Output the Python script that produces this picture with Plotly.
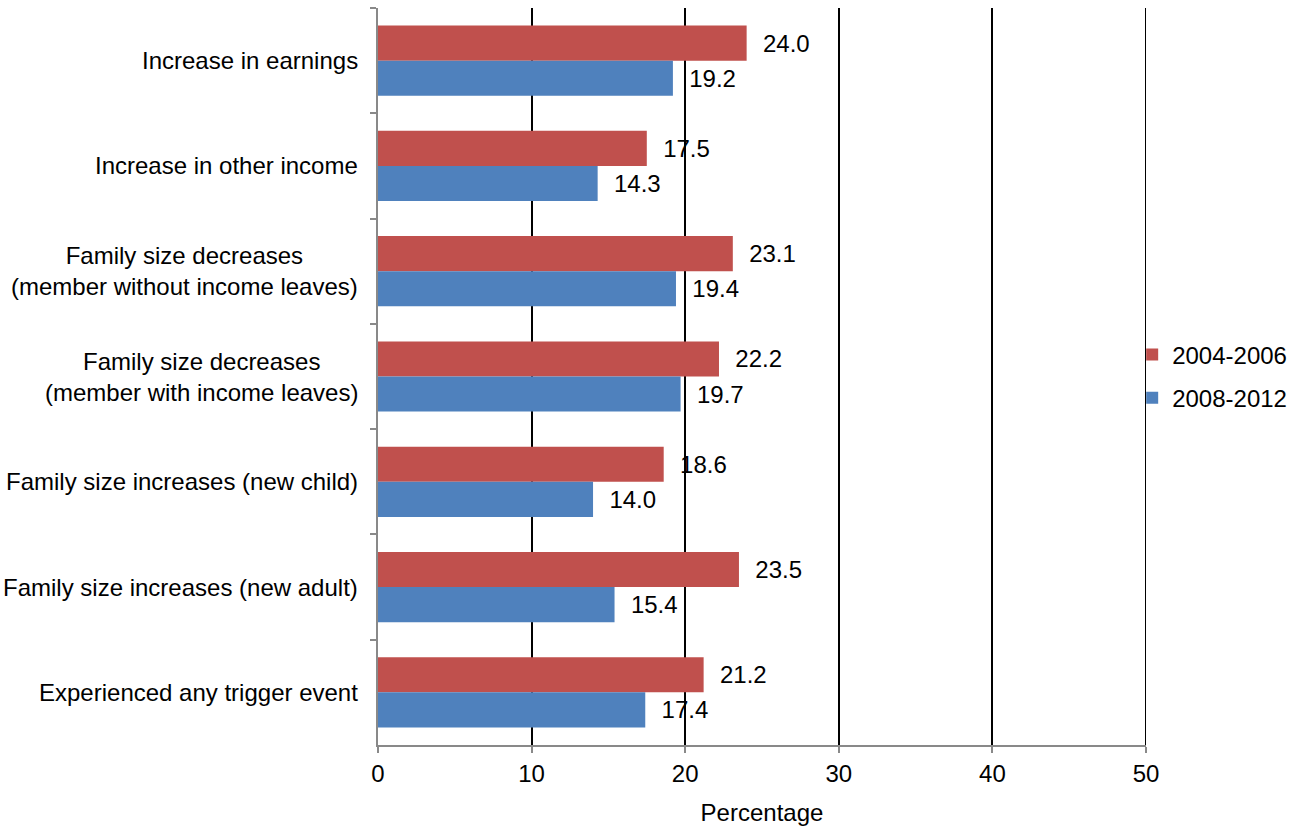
import plotly.graph_objects as go

categories = [
    "Increase in earnings",
    "Increase in other income",
    "Family size decreases<br>(member without income leaves)",
    "Family size decreases<br>(member with income leaves)",
    "Family size increases (new child)",
    "Family size increases (new adult)",
    "Experienced any trigger event",
]
series_names = ["2004-2006", "2008-2012"]
values_2004_2006 = [24.0, 17.5, 23.1, 22.2, 18.6, 23.5, 21.2]
values_2008_2012 = [19.2, 14.3, 19.4, 19.7, 14.0, 15.4, 17.4]
x_ticks = [0, 10, 20, 30, 40, 50]

colors = ["#C0504D", "#4F81BD"]
font_family = "Liberation Sans, Arial, sans-serif"
fs = 24

fig = go.Figure()
for name, vals, col in zip(series_names, [values_2004_2006, values_2008_2012], colors):
    fig.add_trace(go.Bar(
        y=categories, x=vals, name=name, orientation="h",
        legendgroup=name,
        marker=dict(color=col, line=dict(width=0)),
        text=[f"{v:.1f}" for v in vals],
        texttemplate="  %{text}",
        textposition="outside",
        textfont=dict(size=fs, color="#000000", family=font_family),
        cliponaxis=False,
    ))

# Category labels drawn as centered multi-line annotations
annotations = []
for cat in categories:
    annotations.append(dict(
        x=0, xref="paper", y=cat, yref="y",
        text=cat, showarrow=False, xanchor="right", yanchor="middle",
        xshift=-18, align="center",
        font=dict(size=fs, color="#000000", family=font_family),
    ))

# Gridline at the last tick, which sits on the right edge of the plot area
shapes = [dict(
    type="line", xref="x", yref="paper",
    x0=x_ticks[-1], x1=x_ticks[-1], y0=0, y1=1,
    line=dict(color="#000000", width=2), layer="above",
)]

fig.update_layout(
    width=1302, height=826,
    margin=dict(l=378, r=156, t=8, b=81),
    paper_bgcolor="white", plot_bgcolor="white",
    barmode="group", bargap=1/3, bargroupgap=0,
    font=dict(family=font_family, size=fs, color="#000000"),
    annotations=annotations,
    shapes=shapes,
    legend=dict(
        x=0.982, xanchor="left", y=0.5, yanchor="middle",
        xref="paper", yref="paper",
        traceorder="grouped", font=dict(size=fs, family=font_family),
        itemwidth=30, tracegroupgap=9, bgcolor="rgba(0,0,0,0)",
    ),
    xaxis=dict(
        range=[0, 50], tickvals=x_ticks, ticktext=[str(t) for t in x_ticks],
        showgrid=True, gridcolor="#000000", gridwidth=1.5,
        zeroline=False, showline=True, linecolor="#898989", linewidth=2,
        ticks="outside", ticklen=6, tickcolor="#898989", tickwidth=2,
        tickfont=dict(size=fs, family=font_family),
        automargin=False,
        title=dict(text="Percentage", font=dict(size=fs, family=font_family), standoff=19),
    ),
    yaxis=dict(
        autorange="reversed", showticklabels=False,
        showgrid=False, zeroline=False, showline=True,
        linecolor="#898989", linewidth=2,
        ticks="outside", ticklen=6, tickcolor="#898989", tickwidth=2,
        tickson="boundaries", automargin=False,
    ),
)

fig.write_html("out.html")
